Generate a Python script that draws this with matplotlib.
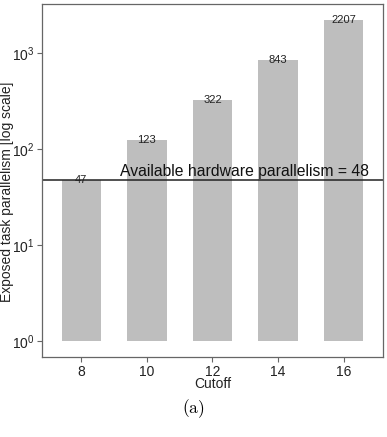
import numpy as np
import matplotlib
matplotlib.use("Agg")
import matplotlib.pyplot as plt

# data
cutoffs = ["8", "10", "12", "14", "16"]
parallelism = [47, 123, 322, 843, 2207]
hw_parallelism = 48

plt.rcParams['font.family'] = ['Liberation Sans', 'DejaVu Sans']
plt.rcParams['mathtext.fontset'] = 'cm'

fig = plt.figure(figsize=(3.87, 4.37), dpi=100)
ax = fig.add_axes([0.1085, 0.183, 0.881, 0.808])

x = np.arange(len(cutoffs))
ax.bar(x, np.array(parallelism) - 1, bottom=1, width=0.6, color='#bebebe')
for xi, v in zip(x, parallelism):
    ax.text(xi, v, str(v), ha='center', va='center', fontsize=8, color='#222222')

ax.axhline(hw_parallelism, color='#222222', lw=1.1)
ax.text(2.49, hw_parallelism * 1.01, 'Available hardware parallelism = %d' % hw_parallelism,
        ha='center', va='bottom', fontsize=11.3, color='#111111')

ax.set_yscale('log')
ax.set_ylim(10 ** -0.167, 10 ** 3.51)
ax.set_xlim(-0.6, 4.6)
ax.set_yticks([1, 10, 100, 1000])
ax.yaxis.set_minor_locator(matplotlib.ticker.NullLocator())
ax.set_xticks(x)
ax.set_xticklabels(cutoffs)

for s in ax.spines.values():
    s.set_color('#666666')
    s.set_linewidth(0.9)
ax.tick_params(axis='both', colors='#666666', labelcolor='#222222', labelsize=10,
               length=3.5, width=0.8, pad=2)

ax.set_xlabel('Cutoff', fontsize=10, color='#222222', labelpad=-1)
ax.set_ylabel('Exposed task parallelism [log scale]', fontsize=10, color='#222222')
ax.yaxis.set_label_coords(-0.083, 0.467)

fig.text(0.5, 0.066, r'$\mathrm{(a)}$', ha='center', va='center', fontsize=12.5)

fig.savefig('out.png', dpi=100)
